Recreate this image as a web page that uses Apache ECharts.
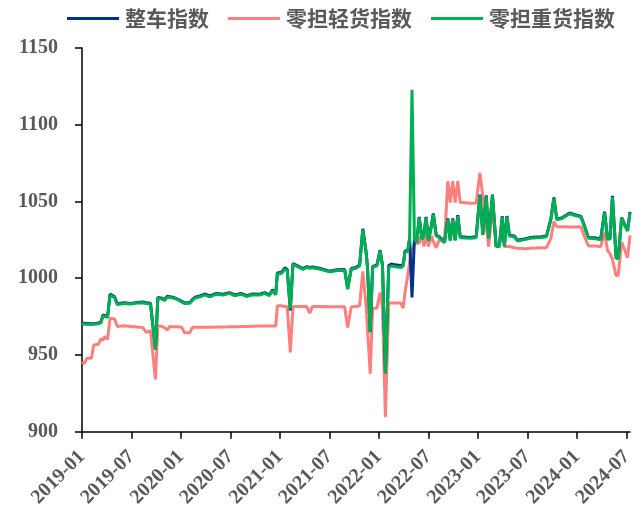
<!DOCTYPE html>
<html>
<head>
<meta charset="utf-8">
<script src="https://cdn.jsdelivr.net/npm/echarts@6/dist/echarts.min.js"></script>
<style>
  html, body { margin: 0; padding: 0; background: #fff; }
  #chart { width: 638px; height: 510px; }
</style>
</head>
<body>
<div id="chart"></div>
<script>
// Weekly freight index readings (sampled at turning points)
const dates = [
  '2019-01-01','2019-01-10','2019-01-19','2019-02-05','2019-02-13','2019-03-01','2019-03-10','2019-03-18','2019-03-25','2019-04-04',
  '2019-04-13','2019-04-29','2019-05-10','2019-06-04','2019-06-28','2019-07-21','2019-08-13','2019-08-25','2019-09-10','2019-09-17',
  '2019-09-28','2019-10-07','2019-10-22','2019-11-01','2019-11-11','2019-11-20','2019-12-05','2019-12-19','2020-01-04','2020-01-14',
  '2020-02-03','2020-02-12','2020-02-21','2020-03-10','2020-03-28','2020-04-16','2020-05-10','2020-06-04','2020-06-28','2020-07-16',
  '2020-08-10','2020-08-30','2020-09-22','2020-10-18','2020-11-05','2020-11-22','2020-12-04','2020-12-16','2020-12-22','2021-01-07',
  '2021-01-19','2021-01-28','2021-02-08','2021-02-17','2021-03-05','2021-03-25','2021-04-08','2021-04-19','2021-04-29','2021-05-25',
  '2021-07-01','2021-07-28','2021-08-27','2021-09-07','2021-09-20','2021-10-07','2021-10-21','2021-11-02','2021-11-14','2021-11-19',
  '2021-11-29','2021-12-08','2021-12-24','2022-01-05','2022-01-14','2022-01-19','2022-01-25','2022-02-06','2022-02-15','2022-03-01',
  '2022-03-21','2022-03-30','2022-04-05','2022-04-16','2022-04-22','2022-05-01','2022-05-10','2022-05-19','2022-05-28','2022-06-07',
  '2022-06-14','2022-06-22','2022-07-01','2022-07-12','2022-07-19','2022-07-30','2022-08-11','2022-08-30','2022-09-11','2022-09-20',
  '2022-09-29','2022-10-08','2022-10-18','2022-10-27','2022-12-01','2022-12-25','2023-01-08','2023-01-19','2023-02-01','2023-02-09',
  '2023-02-22','2023-03-07','2023-03-19','2023-03-30','2023-04-07','2023-04-16','2023-04-25','2023-05-13','2023-05-25','2023-06-25',
  '2023-07-11','2023-08-02','2023-08-22','2023-09-10','2023-09-26','2023-10-07','2023-10-18','2023-11-08','2023-12-04','2023-12-22',
  '2024-01-16','2024-01-28','2024-02-12','2024-03-04','2024-03-28','2024-04-11','2024-04-22','2024-05-01','2024-05-10','2024-05-24',
  '2024-06-01','2024-06-13','2024-06-23','2024-07-05','2024-07-14'
];

// 整车指数
const truckload = [
  971,970.5,970.5,970.3,970.4,970.8,971.5,976,975.5,975,
  989.6,988,983.3,984,983.6,984.2,984.5,984,983.7,984.8,
  954,987.5,987,986,988.2,988,987.4,986.4,985,984,
  984.1,986,987.6,988.4,989.7,988.4,990.1,989.5,990.6,989.1,
  990.1,988.6,989.7,989.6,990.6,989.2,992.5,989.9,1003.4,1003.9,
  1006.8,1005.7,979,1009.6,1008,1006.3,1007.5,1007,1007.3,1006.5,
  1004.6,1005.5,1005.7,993.3,1006.3,1007,1008.6,1032.2,1017.2,1007.5,
  965.2,1007.6,1008.6,1018.3,1008.6,1009.6,938.2,1008.2,1009.2,1008.7,
  1008.2,1009,1017.5,1018.5,1025.9,987.5,1025.9,1023.8,1040,1025.9,
  1028,1040,1024.9,1034.6,1042.2,1028,1027,1023.8,1038.9,1024.9,
  1038.9,1025,1041.1,1027,1026.6,1027,1054.5,1028.6,1054,1026.3,
  1054.4,1021.1,1021.1,1040.5,1021.1,1040.5,1028,1027.5,1024.8,1025.8,
  1026.5,1026.9,1027,1027.5,1038.8,1052.6,1038.5,1039.5,1042.5,1041.5,
  1040.3,1034.5,1026.6,1026.4,1025.6,1043.3,1025.9,1026,1053.7,1013.3,
  1013.5,1039.5,1035.5,1031.2,1043.2
];

// 零担轻货指数
const lightLtl = [
  945.5,944.3,947.8,947.8,956.5,957,960.5,959.5,962,960,
  974,973.5,968.5,969,968.6,968.2,967.8,964.7,965.8,966,
  934,969,968.6,967.8,966.2,968.6,968.4,968.4,968,964.5,
  964.5,968,968,968,968,968,968.2,968.2,968.3,968.4,
  968.5,968.6,968.7,968.8,968.8,968.8,968.8,968.8,982,982,
  981.6,981.5,951.7,981.6,981.6,981.5,981.5,977.3,981.5,981.5,
  981.4,981.4,981.4,967.8,981.4,981.6,982,1004.5,982,981,
  937.7,980.5,980.5,990.7,980.5,980.5,909.5,983.8,983.8,983.8,
  983.8,980.5,990,1002.6,1010,1018.8,1022,1023.2,1022.5,1029.7,
  1020.7,1027.5,1020.7,1027.5,1024,1019.8,1025.3,1023.2,1063.2,1049.2,
  1063.2,1049.2,1063.2,1049.5,1048.8,1049,1068.6,1053.5,1034,1020.6,
  1046.8,1020.6,1020.6,1034,1020.6,1020.6,1020.6,1019.9,1019.5,1019.2,
  1019.5,1019.7,1019.9,1019.9,1026,1037,1033.6,1033.6,1033.3,1033.4,
  1033.6,1027.5,1021,1021,1020.6,1029.7,1018,1016,1012.3,1001.5,
  1002,1023.5,1019,1013.4,1027.9
];

// 零担重货指数
const heavyLtl = [
  970.5,970,970,969.8,970,970.3,971,975.5,975,974.5,
  989,987.5,982.8,983.5,983.2,983.8,984,983.5,983.2,984.2,
  953.3,987,986.5,985.5,987.7,987.5,987,986,984.5,983.5,
  983.6,985.5,987,987.9,989.2,987.9,989.6,989,990.1,988.6,
  989.6,988.1,989.2,989,990.1,988.6,991.8,989.2,1002.7,1003.2,
  1006,1005,980,1009,1007.5,1005.8,1007,1006.5,1006.8,1006,
  1004.1,1005,1005.2,992.8,1005.8,1006.5,1008,1031.5,1016.7,1007,
  964.7,1007,1008,1017.8,1008,1009,937.7,1007,1008,1007.5,
  1007,1008,1016.7,1017.8,1025.3,1122.7,1025.3,1023.2,1039.4,1025.3,
  1027.5,1039.4,1024.3,1034,1041.6,1027.5,1026.5,1023.2,1038.3,1024.3,
  1038.3,1024.5,1040.5,1026.4,1026,1026.4,1053.9,1028,1053.5,1025.8,
  1053.9,1020.6,1020.6,1040,1020.6,1040,1027.5,1027,1024.3,1025.3,
  1026,1026.4,1026.5,1027,1038.3,1052,1038,1039,1042,1041,
  1039.8,1034,1026,1025.8,1025,1042.7,1025.3,1025.5,1052.9,1012.8,
  1013,1039,1035,1030.7,1042.7
];

const yTicks = [900, 950, 1000, 1050, 1100, 1150];

// Month index counted from Jan 2019, fractional within the month
function monthIndex(s) {
  const [y, m, d] = s.split('-').map(Number);
  const dim = new Date(Date.UTC(y, m, 0)).getUTCDate();
  return (y - 2019) * 12 + (m - 1) + (d - 1) / dim;
}
function pairs(values) {
  return dates.map((d, i) => [monthIndex(d), values[i]]);
}

const grey = '#595959';
const serif = '"Liberation Serif", "Times New Roman", serif';
const cjk = '"Noto Sans CJK SC", sans-serif';

const chart = echarts.init(document.getElementById('chart'), null, { renderer: 'canvas' });
chart.setOption({
  animation: false,
  backgroundColor: '#ffffff',
  legend: {
    top: 3,
    left: 62,
    icon: 'rect',
    itemWidth: 52,
    itemHeight: 3,
    itemGap: 19,
    data: ['整车指数', '零担轻货指数', '零担重货指数'],
    textStyle: { color: grey, fontFamily: cjk, fontWeight: 'bold', fontSize: 21, padding: [0, 0, 0, 1] }
  },
  grid: { left: 82, right: 8, top: 48, bottom: 77, containLabel: false },
  xAxis: {
    type: 'value',
    min: 0,
    max: monthIndex(dates[dates.length - 1]),
    interval: 6,
    splitLine: { show: false },
    axisLine: { lineStyle: { color: '#000', width: 1.5 } },
    axisTick: { length: 7, lineStyle: { color: '#000', width: 1.5 } },
    axisLabel: {
      rotate: 45,
      margin: 22,
      showMaxLabel: false,
      color: grey,
      fontFamily: serif,
      fontWeight: 'bold',
      fontSize: 20,
      formatter: function (v) {
        if (Math.abs(v % 6) > 1e-6) return '';
        const y = 2019 + Math.floor(v / 12);
        const m = (v % 12) + 1;
        return y + '-' + (m < 10 ? '0' + m : m);
      }
    }
  },
  yAxis: {
    type: 'value',
    min: yTicks[0],
    max: yTicks[yTicks.length - 1],
    interval: 50,
    splitLine: { show: false },
    axisLine: { show: true, lineStyle: { color: '#000', width: 1.5 } },
    axisTick: { show: true, length: 7, lineStyle: { color: '#000', width: 1.5 } },
    axisLabel: {
      margin: 24,
      color: grey,
      fontFamily: serif,
      fontWeight: 'bold',
      fontSize: 20,
      formatter: function (v) { return String(v); }
    }
  },
  series: [
    {
      name: '整车指数', type: 'line', data: pairs(truckload), z: 3,
      showSymbol: false, symbol: 'none',
      lineStyle: { color: '#00338D', width: 3 }, itemStyle: { color: '#00338D' }
    },
    {
      name: '零担轻货指数', type: 'line', data: pairs(lightLtl), z: 2,
      showSymbol: false, symbol: 'none',
      lineStyle: { color: '#FF7F7F', width: 3 }, itemStyle: { color: '#FF7F7F' }
    },
    {
      name: '零担重货指数', type: 'line', data: pairs(heavyLtl), z: 4,
      showSymbol: false, symbol: 'none',
      lineStyle: { color: '#00B050', width: 3 }, itemStyle: { color: '#00B050' }
    }
  ]
});
</script>
</body>
</html>
